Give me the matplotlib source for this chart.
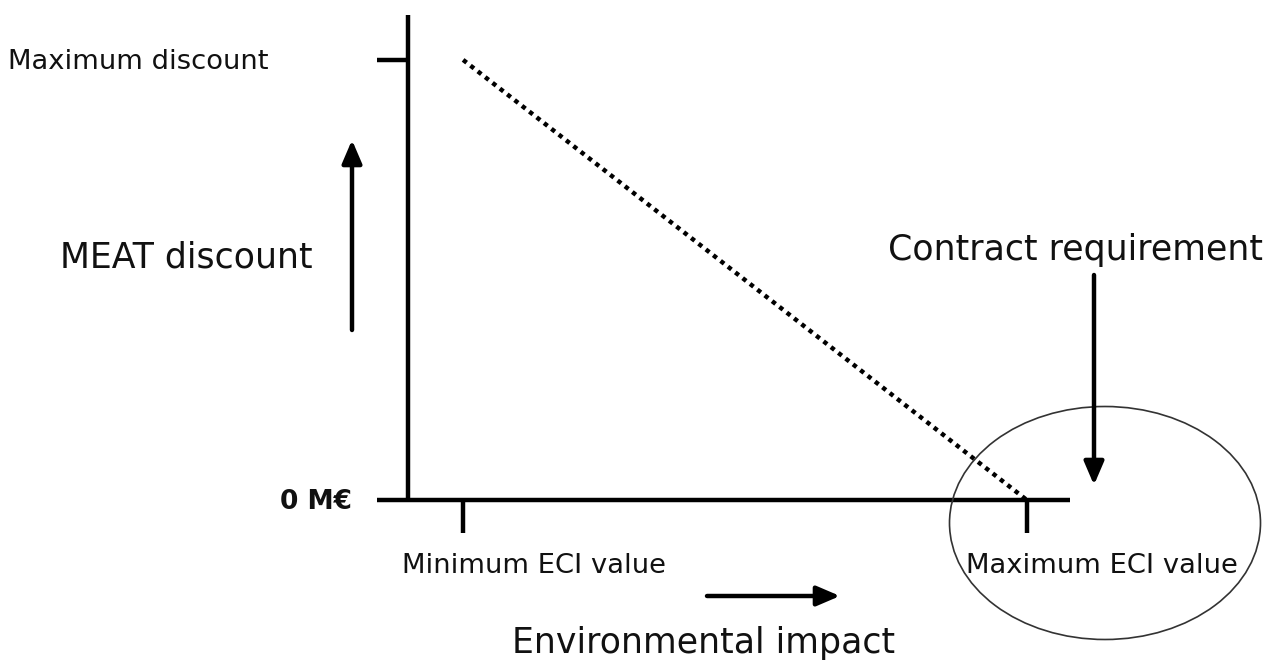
import matplotlib.pyplot as plt
from matplotlib.patches import Ellipse

# conceptual scale of the schematic
eci_values = [1, 10]
eci_labels = ["Minimum ECI value", "Maximum ECI value"]
discount_values = [0, 100]
discount_labels = ["0 M€", "Maximum discount"]

fig = plt.figure(figsize=(12.7, 6.61), dpi=100)

# main axes: spines are the two axis lines
ax = fig.add_axes([408 / 1270, 161 / 661, 662 / 1270, 485 / 661])
ax.set_xlim(0.12, 10.69)
ax.set_ylim(0, 110.2)
for s in ["top", "right"]:
    ax.spines[s].set_visible(False)
for s in ["left", "bottom"]:
    ax.spines[s].set_linewidth(3.2)
    ax.spines[s].set_capstyle("butt")
ax.set_xticks(eci_values)
ax.set_yticks(discount_values)
ax.set_xticklabels([])
ax.set_yticklabels([])
ax.tick_params(axis="x", direction="out", length=24, width=3.2)
ax.tick_params(axis="y", direction="out", length=22, width=3.2)
ax.set_facecolor("none")

# discount falls linearly from min ECI to max ECI
ax.plot(eci_values, discount_values[::-1], color="black", lw=3.2,
        linestyle=(0, (1, 1.1)), clip_on=False)

# y labels
ax.annotate(discount_labels[1], xy=(0, discount_values[1]), xycoords=("axes fraction", "data"),
            xytext=(-140, -2), textcoords="offset pixels", ha="right", va="center",
            fontsize=19.7, color="#111111")
ax.annotate(discount_labels[0], xy=(0, discount_values[0]), xycoords=("axes fraction", "data"),
            xytext=(-56, -2), textcoords="offset pixels", ha="right", va="center",
            fontsize=19, fontweight="bold", color="#111111")

# x labels
for v, lab in zip(eci_values, eci_labels):
    ax.annotate(lab, xy=(v, 0), xytext=(-61, -66), textcoords="offset pixels",
                ha="left", va="center", fontsize=19.7, color="#111111")

# overlay in pixel coordinates for the annotations
ov = fig.add_axes([0, 0, 1, 1])
ov.set_xlim(0, 1270)
ov.set_ylim(661, 0)
ov.axis("off")
ov.set_facecolor("none")

arrow = dict(arrowstyle="-|>,head_width=0.3,head_length=0.7", lw=3.2, color="black",
             shrinkA=0, shrinkB=0, mutation_scale=20)
ov.annotate("", xy=(352, 140), xytext=(352, 330), arrowprops=arrow)
ov.annotate("", xy=(840, 596), xytext=(707, 596), arrowprops=arrow)
ov.annotate("", xy=(1094, 485), xytext=(1094, 275), arrowprops=arrow)

ov.text(186, 257, "MEAT discount", ha="center", va="center", fontsize=25, color="#111111")
ov.text(1076, 250, "Contract requirement", ha="center", va="center", fontsize=25, color="#111111")
ov.text(704, 643, "Environmental impact", ha="center", va="center", fontsize=25, color="#111111")

ov.add_patch(Ellipse((1105, 523), 311, 233, fill=False, lw=1.2, edgecolor="#333333"))

fig.savefig("out.png", dpi=100, facecolor="white")
